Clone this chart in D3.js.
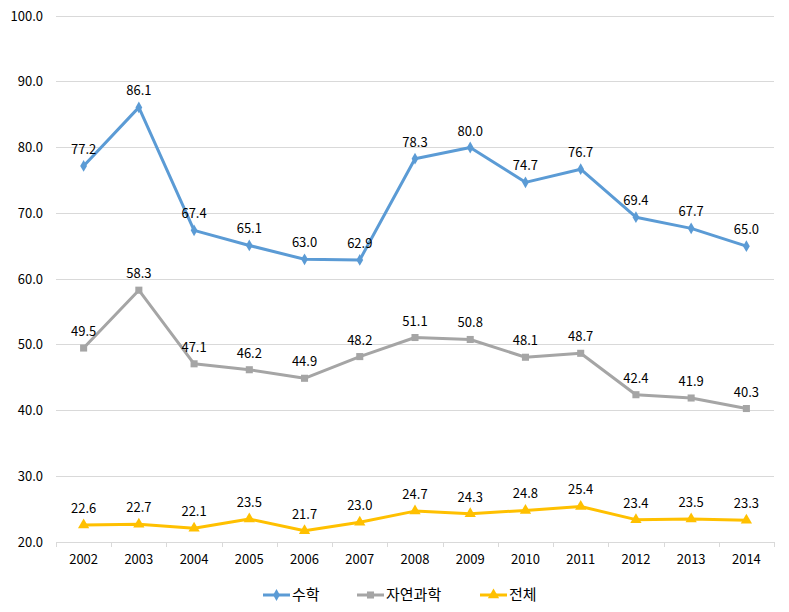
<!DOCTYPE html>
<html><head><meta charset="utf-8">
<script src="https://cdn.jsdelivr.net/npm/d3@7/dist/d3.min.js"></script>
<style>
body{margin:0;background:#fff;}
text{font-family:"Noto Sans CJK KR","Noto Sans",sans-serif;fill:#000;}
</style></head>
<body><svg id="c" width="789" height="612"></svg>
<script>
const years = ["2002","2003","2004","2005","2006","2007","2008","2009","2010","2011","2012","2013","2014"];
const math = [77.2,86.1,67.4,65.1,63.0,62.9,78.3,80.0,74.7,76.7,69.4,67.7,65.0];
const natsci = [49.5,58.3,47.1,46.2,44.9,48.2,51.1,50.8,48.1,48.7,42.4,41.9,40.3];
const total = [22.6,22.7,22.1,23.5,21.7,23.0,24.7,24.3,24.8,25.4,23.4,23.5,23.3];
const seriesNames = ["수학","자연과학","전체"];
const yTicks = [20,30,40,50,60,70,80,90,100];

const series = [
  {name:seriesNames[0], values:math, color:"#5B9BD5", sym:d3.symbolDiamond, size:40},
  {name:seriesNames[1], values:natsci, color:"#A5A5A5", sym:d3.symbolSquare, size:50},
  {name:seriesNames[2], values:total, color:"#FFC000", sym:d3.symbolTriangle, size:55}
];

const svg = d3.select("#c");
const L=56, R=774, T=16, B=542;
const x = d3.scaleBand().domain(years).range([L,R]);
const y = d3.scaleLinear().domain([20,100]).range([B,T]);

svg.append("g").selectAll("line").data(yTicks).join("line")
  .attr("x1",L).attr("x2",R).attr("y1",d=>y(d)).attr("y2",d=>y(d))
  .attr("stroke","#d9d9d9").attr("stroke-width",1).attr("shape-rendering","crispEdges");

svg.append("g").selectAll("text").data(yTicks).join("text")
  .attr("x",43).attr("y",d=>y(d)).attr("dy","0.35em").attr("text-anchor","end")
  .attr("font-size",13).text(d=>d.toFixed(1));

const xa = svg.append("g").attr("transform",`translate(0,${B})`)
  .call(d3.axisBottom(x).tickSize(0).tickPadding(13));
xa.select(".domain").remove();
xa.selectAll("text").attr("font-size",13).attr("font-family",'"Noto Sans CJK KR","Noto Sans",sans-serif').attr("fill","#000");
const bounds = years.map(d=>x(d)).concat([R]);
svg.append("g").selectAll("line").data(bounds).join("line")
  .attr("x1",d=>Math.round(d)+0.5).attr("x2",d=>Math.round(d)+0.5).attr("y1",B).attr("y2",B+5)
  .attr("stroke","#d9d9d9");

const cx = i => x(years[i]) + x.bandwidth()/2;
const line = d3.line().x((d,i)=>cx(i)).y(d=>y(d));

series.forEach(s=>{
  const g = svg.append("g");
  g.append("path").attr("d",line(s.values)).attr("fill","none")
    .attr("stroke",s.color).attr("stroke-width",3).attr("stroke-linejoin","round");
  g.selectAll("path.m").data(s.values).join("path").attr("class","m")
    .attr("transform",(d,i)=>`translate(${cx(i)},${y(d)})`)
    .attr("d",d3.symbol().type(s.sym).size(s.size)).attr("fill",s.color);
  g.selectAll("text").data(s.values).join("text")
    .attr("x",(d,i)=>cx(i)).attr("y",d=>y(d)-12).attr("text-anchor","middle")
    .attr("font-size",13).text(d=>d.toFixed(1));
});

const legX = [263,357,480];
const lg = svg.append("g");
series.forEach((s,i)=>{
  const gx = legX[i], gy = 595;
  lg.append("line").attr("x1",gx).attr("x2",gx+27).attr("y1",gy).attr("y2",gy)
    .attr("stroke",s.color).attr("stroke-width",3);
  lg.append("path").attr("transform",`translate(${gx+13.5},${gy})`)
    .attr("d",d3.symbol().type(s.sym).size(s.size)).attr("fill",s.color);
  lg.append("text").attr("x",gx+29).attr("y",gy).attr("dy","0.35em")
    .attr("font-size",15).text(s.name);
});
</script></body></html>
